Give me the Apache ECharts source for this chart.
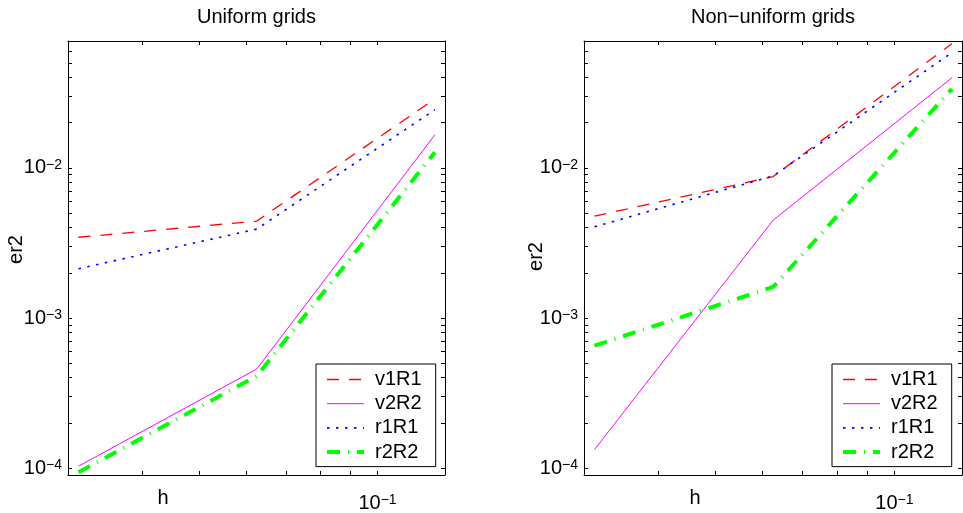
<!DOCTYPE html>
<html><head><meta charset="utf-8">
<script src="https://cdn.jsdelivr.net/npm/echarts@6/dist/echarts.min.js"></script>
<style>html,body{margin:0;padding:0;background:#fff}#c{width:963px;height:513px}</style>
</head><body><div id="c"></div>
<script>
// ---- data ----
const h = [0.03125, 0.0625, 0.125];
const seriesNames = ['v1R1', 'v2R2', 'r1R1', 'r2R2'];
const uniformV1R1 = [3.45e-3, 4.42e-3, 2.88e-2];
const uniformV2R2 = [1.03e-4, 4.57e-4, 1.66e-2];
const uniformR1R1 = [2.13e-3, 3.91e-3, 2.44e-2];
const uniformR2R2 = [9.4e-5, 4.10e-4, 1.27e-2];
const nonuniformV1R1 = [4.77e-3, 8.75e-3, 6.72e-2];
const nonuniformV2R2 = [1.33e-4, 4.49e-3, 3.98e-2];
const nonuniformR1R1 = [4.05e-3, 8.84e-3, 5.85e-2];
const nonuniformR2R2 = [6.55e-4, 1.61e-3, 3.36e-2];
const panelTitles = ['Uniform grids', 'Non\u2212uniform grids'];
const xName = 'h';
const yName = 'er2';
const xRange = [0.03, 0.13];
const yRange = [9e-5, 0.07];
const xTickValues = [0.03, 0.04, 0.05, 0.06, 0.07, 0.08, 0.09, 0.1];
const yTickValues = [1e-4, 2e-4, 3e-4, 4e-4, 5e-4, 6e-4, 7e-4, 8e-4, 9e-4,
                     1e-3, 2e-3, 3e-3, 4e-3, 5e-3, 6e-3, 7e-3, 8e-3, 9e-3,
                     1e-2, 2e-2, 3e-2, 4e-2, 5e-2, 6e-2, 7e-2];

// ---- styling ----
const FONT = 'Liberation Sans, Arial, Helvetica, sans-serif';
const panels = [
  {left: 68, top: 41, width: 377, height: 434, legendLeft: 316, titleX: 256.5, hX: 163, yLabX: 16, yLabY: 249.5,
   data: [uniformV1R1, uniformV2R2, uniformR1R1, uniformR2R2]},
  {left: 584, top: 41, width: 378, height: 434, legendLeft: 832, titleX: 773, hX: 695, yLabX: 536, yLabY: 256.5,
   data: [nonuniformV1R1, nonuniformV2R2, nonuniformR1R1, nonuniformR2R2]}
];
const lineStyles = [
  {color: '#ff0000', width: 1.3, type: [12, 10]},
  {color: '#ff00ff', width: 1, type: 'solid'},
  {color: '#0000ff', width: 1.6, type: [2.5, 6.5]},
  {color: '#00ff00', width: 4, type: [13, 8, 1, 8]}
];

function powLabel(v) {
  const l = Math.log10(v);
  const e = Math.round(l);
  if (Math.abs(l - e) > 1e-6) return '';
  return '{b|10}{s|' + (e < 0 ? '\u2212' : '') + Math.abs(e) + '}';
}
const labelRich = {
  b: {fontSize: 20, lineHeight: 20, padding: [6, 0, 6, 0], fontFamily: FONT, color: '#000'},
  s: {fontSize: 14, lineHeight: 14, verticalAlign: 'top', fontFamily: FONT, color: '#000'}
};

const grid = [], xAxis = [], yAxis = [], series = [], legend = [], graphic = [];
panels.forEach((p, gi) => {
  grid.push({left: p.left, top: p.top, width: p.width, height: p.height, show: false,
             containLabel: false, outerBoundsMode: 'none'});
  const axBase = (range, ticks) => ({
    type: 'log', logBase: 10, min: range[0], max: range[1], gridIndex: gi,
    axisLine: {show: true, onZero: false, lineStyle: {color: '#000', width: 1}},
    axisTick: {show: true, inside: true, length: 4, customValues: ticks, lineStyle: {color: '#000', width: 1}},
    splitLine: {show: false}, minorTick: {show: false}
  });
  xAxis.push(Object.assign(axBase(xRange, xTickValues), {position: 'bottom',
    axisLabel: {show: true, margin: 18, formatter: powLabel, rich: labelRich, showMinLabel: true, showMaxLabel: true}}));
  xAxis.push(Object.assign(axBase(xRange, xTickValues), {position: 'top', axisLabel: {show: false}}));
  yAxis.push(Object.assign(axBase(yRange, yTickValues), {position: 'left',
    axisLabel: {show: true, margin: 6, formatter: powLabel, rich: labelRich}}));
  yAxis.push(Object.assign(axBase(yRange, yTickValues), {position: 'right', axisLabel: {show: false}}));

  seriesNames.forEach((name, si) => {
    series.push({
      type: 'line', name: name, xAxisIndex: gi * 2, yAxisIndex: gi * 2,
      data: h.map((x, i) => [x, p.data[si][i]]),
      symbol: 'none', animation: false, z: 2 + si,
      lineStyle: lineStyles[si], itemStyle: {color: lineStyles[si].color}
    });
  });

  legend.push({
    orient: 'vertical', left: p.legendLeft, top: 364,
    data: seriesNames, itemWidth: 37, itemHeight: 14, itemGap: 4.2,
    padding: [5.5, 14, 4.5, 9], borderColor: '#000', borderWidth: 1, backgroundColor: '#fff',
    textStyle: {fontSize: 20, color: '#000', fontFamily: FONT, padding: [0, 0, 0, 6]},
    lineStyle: {width: 'inherit'},
    itemStyle: {color: 'rgba(0,0,0,0)', borderWidth: 0, opacity: 0},
    selectedMode: false, z: 10
  });

  graphic.push({type: 'text', x: p.titleX, y: 17, style: {text: panelTitles[gi], font: '20px ' + FONT, fill: '#000', align: 'center', verticalAlign: 'middle'}});
  graphic.push({type: 'text', x: p.hX, y: 498, style: {text: xName, font: '20px ' + FONT, fill: '#000', align: 'center', verticalAlign: 'middle'}});
  graphic.push({type: 'text', x: p.yLabX, y: p.yLabY, rotation: Math.PI / 2, style: {text: yName, font: '20px ' + FONT, fill: '#000', align: 'center', verticalAlign: 'middle'}});
});

const chart = echarts.init(document.getElementById('c'), null, {renderer: 'canvas'});
chart.setOption({animation: false, backgroundColor: '#fff', grid, xAxis, yAxis, series, legend, graphic});
</script>
</body></html>
